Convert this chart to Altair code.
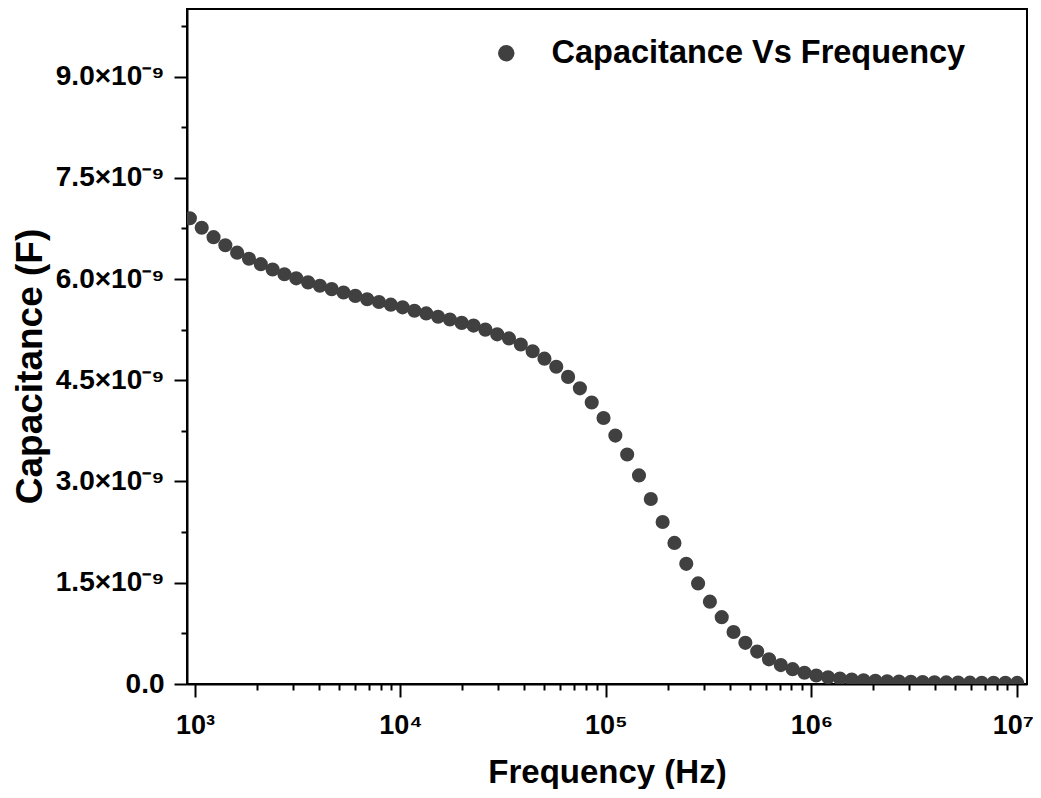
import altair as alt
import pandas as pd

# Frequency (Hz) of each measured point
freq = [945, 1079, 1232, 1406, 1605, 1832, 2092, 2388, 2726, 3112,
        3553, 4056, 4630, 5286, 6034, 6889, 7864, 8978, 10249, 11700,
        13357, 15249, 17408, 19873, 22687, 25900, 29567, 33754, 38533, 43990,
        50219, 57330, 65448, 74716, 85296, 97375, 111163, 126905, 144875, 165389,
        188809, 215545, 246067, 280911, 320689, 366100, 417941, 477123, 544686, 621815,
        709866, 810386, 925136, 1056135, 1205688, 1376422, 1571332, 1793838, 2047856, 2337844,
        2668897, 3046828, 3478275, 3970817, 4533103, 5175010, 5907817, 6744392, 7699427, 8789700,
        10034364]

# Capacitance (F)
cap = [6.90e-9, 6.76e-9, 6.62e-9, 6.50e-9, 6.39e-9, 6.30e-9, 6.22e-9, 6.14e-9, 6.07e-9, 6.01e-9,
       5.95e-9, 5.90e-9, 5.85e-9, 5.80e-9, 5.75e-9, 5.70e-9, 5.66e-9, 5.62e-9, 5.58e-9, 5.53e-9,
       5.49e-9, 5.44e-9, 5.40e-9, 5.35e-9, 5.31e-9, 5.25e-9, 5.18e-9, 5.12e-9, 5.03e-9, 4.93e-9,
       4.82e-9, 4.70e-9, 4.55e-9, 4.38e-9, 4.17e-9, 3.94e-9, 3.68e-9, 3.40e-9, 3.09e-9, 2.74e-9,
       2.40e-9, 2.09e-9, 1.78e-9, 1.49e-9, 1.22e-9, 0.99e-9, 0.77e-9, 0.61e-9, 0.48e-9, 0.365e-9,
       0.28e-9, 0.22e-9, 0.167e-9, 0.126e-9, 0.10e-9, 0.08e-9, 0.065e-9, 0.055e-9, 0.047e-9, 0.041e-9,
       0.036e-9, 0.032e-9, 0.029e-9, 0.026e-9, 0.024e-9, 0.022e-9, 0.020e-9, 0.019e-9, 0.018e-9, 0.017e-9,
       0.016e-9]

series_name = "Capacitance Vs Frequency"

x_major = [1000, 10000, 100000, 1000000, 10000000]
x_minor = [2000, 3000, 4000, 5000, 6000, 7000, 8000, 9000,
           20000, 30000, 40000, 50000, 60000, 70000, 80000, 90000,
           200000, 300000, 400000, 500000, 600000, 700000, 800000, 900000,
           2000000, 3000000, 4000000, 5000000, 6000000, 7000000, 8000000, 9000000]
y_major = [0, 1.5e-9, 3.0e-9, 4.5e-9, 6.0e-9, 7.5e-9, 9.0e-9]
y_minor = [0.75e-9, 2.25e-9, 3.75e-9, 5.25e-9, 6.75e-9, 8.25e-9, 9.75e-9]

df = pd.DataFrame({"Frequency": freq, "Capacitance": cap, "Series": [series_name] * len(freq)})

FONT = "Liberation Sans"
DARK = "#404040"

xs = alt.Scale(type="log", domain=[915, 1.12e7], nice=False)
ys = alt.Scale(domain=[0, 1.0e-8], nice=False, zero=False)

x_lab = "'10' + ['⁰','¹','²','³','⁴','⁵','⁶','⁷','⁸'][round(log(datum.value)/LN10)]"
y_lab = "datum.value == 0 ? '0.0' : format(datum.value*1e9, '.1f') + '×10⁻⁹'"

main = alt.Chart(df).mark_circle(size=200, opacity=1, clip=True).encode(
    x=alt.X("Frequency:Q", scale=xs,
            axis=alt.Axis(orient="bottom", values=x_major, labelExpr=x_lab, tickSize=13,
                          tickWidth=2, domainWidth=2, domainColor="black", tickColor="black",
                          labelFont=FONT, labelFontSize=27, labelFontWeight="bold", labelColor="black",
                          labelPadding=15, grid=False, title="Frequency (Hz)",
                          labelOffset={"condition": {"test": "datum.value > 5000000", "value": -4},
                                       "value": 0},
                          titleFont=FONT, titleFontSize=33, titleFontWeight="bold", titleColor="black",
                          titlePadding=18)),
    y=alt.Y("Capacitance:Q", scale=ys,
            axis=alt.Axis(orient="left", values=y_major, labelExpr=y_lab, tickSize=13,
                          tickWidth=2, domainWidth=2, domainColor="black", tickColor="black",
                          labelFont=FONT, labelFontSize=28, labelFontWeight="bold", labelColor="black",
                          labelPadding=10, grid=False, title="Capacitance (F)",
                          titleY=357,
                          titleFont=FONT, titleFontSize=37, titleFontWeight="bold", titleColor="black",
                          titlePadding=6)),
    color=alt.Color("Series:N", scale=alt.Scale(range=[DARK]),
                    legend=alt.Legend(title=None, orient="none", legendX=303, legendY=28,
                                      padding=0, symbolType="circle", symbolSize=270,
                                      symbolFillColor=DARK, symbolStrokeWidth=0,
                                      labelFont=FONT, labelFontSize=32.5, labelFontWeight="bold",
                                      labelColor="black", labelOffset=29, labelLimit=600)),
)

minor = alt.Chart(df).mark_circle(size=1, opacity=0).encode(
    x=alt.X("Frequency:Q", scale=xs,
            axis=alt.Axis(orient="bottom", values=x_minor, labels=False, tickSize=6, tickWidth=2,
                          domain=False, tickColor="black", grid=False, title=None)),
    y=alt.Y("Capacitance:Q", scale=ys,
            axis=alt.Axis(orient="left", values=y_minor, labels=False, tickSize=6, tickWidth=2,
                          domain=False, tickColor="black", grid=False, title=None)),
)

chart = alt.layer(main, minor).resolve_axis(x="independent", y="independent").properties(
    width=840, height=675,
    autosize=alt.AutoSizeParams(type="none"),
    padding={"left": 179, "top": 1, "right": 6, "bottom": 105},
    background="white",
).configure_view(stroke="black", strokeWidth=2)

chart.save("out.html", embed_options={"renderer": "svg", "actions": False})
